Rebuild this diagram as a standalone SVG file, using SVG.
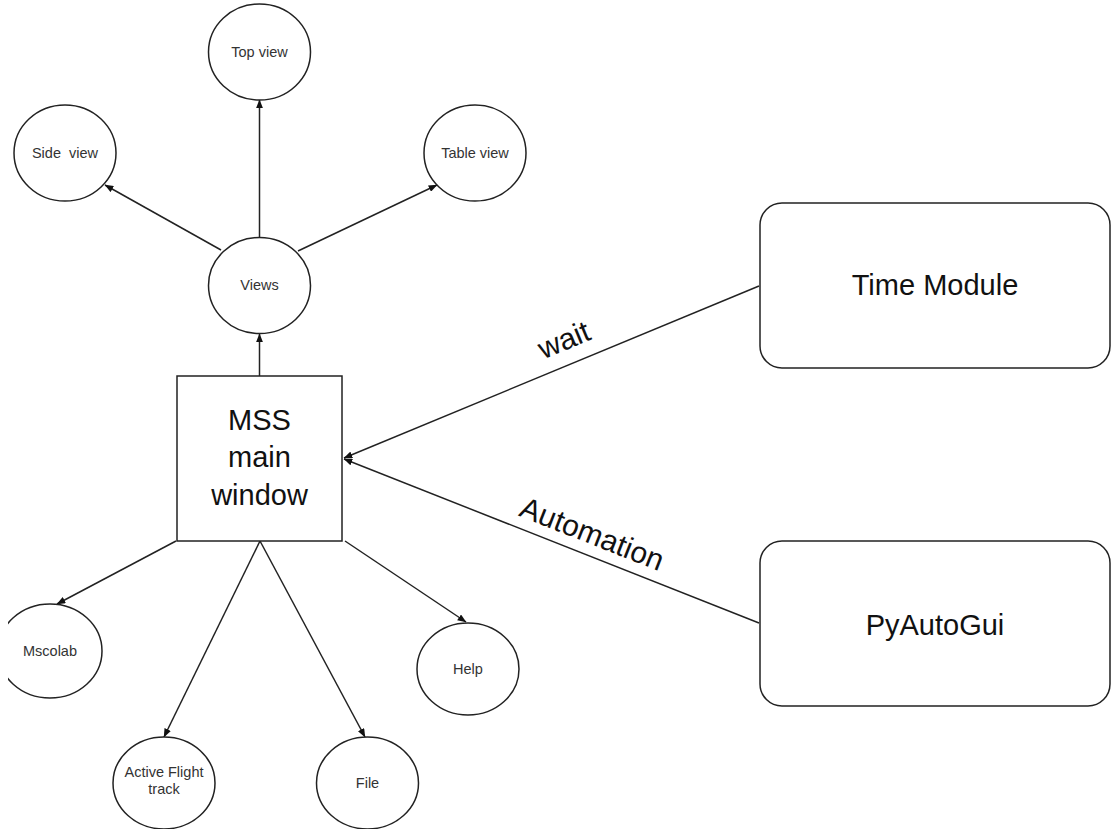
<svg xmlns="http://www.w3.org/2000/svg" width="1112" height="829" viewBox="0 0 1112 829">
  <defs>
    <style>
      .node { fill: #fff; stroke: #222; stroke-width: 1.5; }
      .small { font-family: "Liberation Sans", Arial, sans-serif; font-size: 14.5px; fill: #333; text-anchor: middle; }
      .big { font-family: "Liberation Sans", Arial, sans-serif; font-size: 29px; fill: #111; text-anchor: middle; }
      .lbl { font-family: "Liberation Sans", Arial, sans-serif; font-size: 30px; fill: #111; text-anchor: middle; }
      .edge { fill: none; stroke: #222; stroke-width: 1.5; }
    </style>
    <marker id="arr" viewBox="0 0 10 8" refX="9.5" refY="4" markerWidth="9" markerHeight="7" markerUnits="userSpaceOnUse" orient="auto">
      <path d="M0,0 L10,4 L0,8 z" fill="#111"/>
    </marker>
    <clipPath id="leftclip"><rect x="8" y="0" width="1104" height="829"/></clipPath>
  </defs>
  <rect width="1112" height="829" fill="#fff"/>

  <g id="connectors">
    <line class="edge" x1="259.5" y1="376" x2="259.5" y2="334" marker-end="url(#arr)"/>
    <line class="edge" x1="259.5" y1="238" x2="259.5" y2="100" marker-end="url(#arr)"/>
    <line class="edge" x1="221" y1="250" x2="105" y2="185" marker-end="url(#arr)"/>
    <line class="edge" x1="298" y1="251" x2="437" y2="185" marker-end="url(#arr)"/>
    <line class="edge" x1="176" y1="541" x2="57" y2="604" marker-end="url(#arr)"/>
    <line class="edge" x1="260" y1="541" x2="164" y2="737" marker-end="url(#arr)"/>
    <line class="edge" x1="260" y1="541" x2="365" y2="737" marker-end="url(#arr)"/>
    <line class="edge" x1="345" y1="541" x2="466" y2="622" marker-end="url(#arr)"/>
    <line class="edge" x1="759" y1="286" x2="344" y2="458" marker-end="url(#arr)"/>
    <line class="edge" x1="759" y1="623" x2="344" y2="459" marker-end="url(#arr)"/>
    <text class="lbl" transform="translate(564,340) rotate(-22.6)" dy="10">wait</text>
    <text class="lbl" transform="translate(592,534) rotate(21.5)" dy="10">Automation</text>
  </g>

  <g id="top-view">
    <ellipse class="node" cx="259.5" cy="52" rx="51" ry="48"/>
    <text class="small" x="259.5" y="57">Top view</text>
  </g>
  <g id="side-view">
    <ellipse class="node" cx="65" cy="153" rx="51" ry="48"/>
    <text class="small" x="65" y="158" xml:space="preserve">Side  view</text>
  </g>
  <g id="table-view">
    <ellipse class="node" cx="475" cy="153" rx="51" ry="48"/>
    <text class="small" x="475" y="158">Table view</text>
  </g>
  <g id="views">
    <ellipse class="node" cx="259.5" cy="285.5" rx="51" ry="48"/>
    <text class="small" x="259.5" y="290">Views</text>
  </g>
  <g id="mss-main-window">
    <rect class="node" x="177" y="376" width="165" height="165"/>
    <text class="big" x="259.5" y="430">MSS</text>
    <text class="big" x="259.5" y="467">main</text>
    <text class="big" x="259.5" y="505">window</text>
  </g>
  <g id="mscolab">
    <ellipse class="node" cx="50" cy="651" rx="52" ry="47" clip-path="url(#leftclip)"/>
    <text class="small" x="50" y="656">Mscolab</text>
  </g>
  <g id="active-flight-track">
    <ellipse class="node" cx="164" cy="783" rx="51" ry="46"/>
    <text class="small" x="164" y="777">Active Flight</text>
    <text class="small" x="164" y="794">track</text>
  </g>
  <g id="file">
    <ellipse class="node" cx="367.5" cy="783" rx="51" ry="46"/>
    <text class="small" x="367.5" y="788">File</text>
  </g>
  <g id="help">
    <ellipse class="node" cx="468" cy="669" rx="51" ry="46"/>
    <text class="small" x="468" y="674">Help</text>
  </g>
  <g id="time-module">
    <rect class="node" x="760" y="203" width="350" height="165" rx="22" ry="22"/>
    <text class="big" x="935" y="295">Time Module</text>
  </g>
  <g id="pyautogui">
    <rect class="node" x="760" y="541" width="350" height="165" rx="22" ry="22"/>
    <text class="big" x="935" y="635">PyAutoGui</text>
  </g>
</svg>
